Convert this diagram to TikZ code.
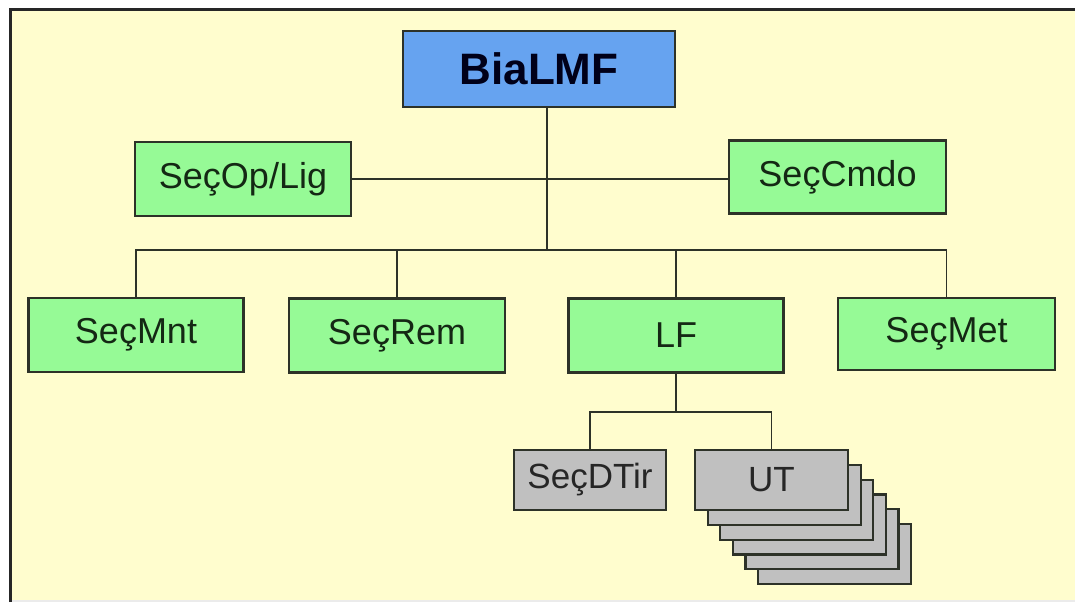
\documentclass[tikz,border=0pt]{standalone}
\usepackage{fontspec}
\setmainfont{Liberation Sans}
\definecolor{bgyellow}{RGB}{255,253,206}
\definecolor{boxgreen}{RGB}{150,250,150}
\definecolor{boxblue}{RGB}{102,163,240}
\definecolor{boxgray}{RGB}{192,192,192}
\definecolor{edgecol}{RGB}{45,50,40}
\definecolor{txtgreen}{RGB}{20,40,20}
\begin{document}
\begin{tikzpicture}[x=1pt,y=-1pt,
  base/.style={draw=edgecol, line width=2.2pt, rectangle, inner sep=0pt, anchor=center},
  greenbox/.style={base, fill=boxgreen, minimum width=216pt, minimum height=74pt, text=txtgreen, font=\fontsize{36}{40}\selectfont},
  bluebox/.style={base, fill=boxblue, minimum width=272pt, minimum height=76pt, text=black!90!blue, font=\fontsize{44}{48}\selectfont\bfseries},
  graybox/.style={base, fill=boxgray, minimum width=153pt, minimum height=60pt, text=black!85, font=\fontsize{35}{38}\selectfont},
  conn/.style={draw=edgecol, line width=1.8pt}
]
\useasboundingbox (0,0) rectangle (1075,602);
\fill[white] (0,0) rectangle (1075,602);
\fill[bgyellow] (10,10) rectangle (1075,600);
\fill[black!8] (10,600) rectangle (1075,602);
\draw[line width=3pt, draw=black!85] (10,602) -- (10,10) -- (1075,10);

% coordinates for connector junctions
\coordinate (t1) at (547,250);
\coordinate (t2) at (676,412);

% connectors
\draw[conn] (547,107) -- (t1);
\node[greenbox] (oplig) at (243,179) {SeçOp/Lig};
\node[greenbox, minimum width=217pt, minimum height=73pt] (cmdo) at (837.5,177) {SeçCmdo};
\draw[conn] (oplig.east) -- (oplig.east -| cmdo.west);

\node[greenbox, minimum width=215pt] (mnt) at (136,335) {SeçMnt};
\node[greenbox] (rem) at (397,335.5) {SeçRem};
\node[greenbox, minimum width=215pt] (lf) at (676,335.5) {LF};
\node[greenbox, minimum width=217pt, minimum height=72pt] (met) at (946.5,334) {SeçMet};

\draw[conn] (mnt.north) -- (mnt.north |- t1) -- (met.north |- t1) -- (met.north);
\draw[conn] (rem.north) -- (rem.north |- t1);
\draw[conn] (lf.north) -- (lf.north |- t1);

% UT stack (behind)
\foreach \k in {5,4,3,2,1}{
  \node[graybox] (ut\k) at (771.5+12.6*\k,480+14.8*\k) {};
}
\node[graybox, minimum width=152pt] (dtir) at (590,480) {SeçDTir};
\node[graybox] (ut) at (771.5,480) {UT};

\draw[conn] (lf.south) -- (t2);
\draw[conn] (dtir.north) -- (dtir.north |- t2) -- (ut.north |- t2) -- (ut.north);

\node[bluebox] (bia) at (539,69) {BiaLMF};
\end{tikzpicture}
\end{document}
